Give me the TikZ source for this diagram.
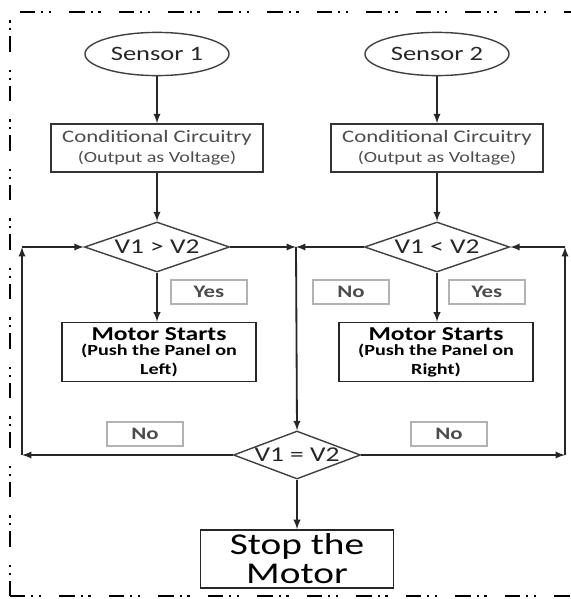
\documentclass[tikz,border=0pt]{standalone}
\usepackage{fontspec}
\setmainfont[FakeStretch=1.3]{Carlito}
\usetikzlibrary{shapes.geometric}

\tikzset{
  >=latex,
  flow/.style={->, line width=1.3pt, black!85},
  sensor/.style={ellipse, draw=black!75, line width=1pt, inner sep=0pt,
    minimum width=3.6cm, minimum height=1.08cm, text=black!85,
    font=\fontsize{14.5}{16}\selectfont},
  circuit/.style={rectangle, draw=black!80, line width=1pt, inner sep=0pt,
    minimum width=5.3cm, minimum height=1.2cm, align=center, text=black!70,
    font=\fontsize{12.5}{14}\selectfont},
  decision/.style={diamond, draw=black!75, line width=1pt, inner sep=0pt,
    minimum width=3.625cm, minimum height=1.25cm, text=black!85,
    font=\fontsize{15}{16}\selectfont},
  motor/.style={rectangle, draw=black!85, line width=1.2pt, inner sep=0pt,
    minimum width=4.85cm, minimum height=1.475cm, align=center,
    font=\bfseries\fontsize{14}{13}\selectfont},
  answer/.style={rectangle, draw=black!30, line width=1pt, inner sep=0pt,
    minimum width=1.9cm, minimum height=0.6cm, text=black!70,
    font=\bfseries\fontsize{12.5}{13}\selectfont},
  stopbox/.style={rectangle, draw=black!85, line width=1.2pt, inner sep=0pt,
    minimum width=4.825cm, minimum height=1.45cm, align=center,
    font=\fontsize{21.5}{20.5}\selectfont},
  frame/.style={line width=2pt, dash pattern=on 11pt off 4pt on 1.6pt off 4pt on 1.6pt off 13pt}
}

\newcommand{\smalltext}{\fontsize{11}{10.5}\selectfont}

\begin{document}
\begin{tikzpicture}[x=0.025cm, y=-0.025cm]
      \useasboundingbox (0,0) rectangle (571,599);

      \draw[frame] (10,596) -- (10,12) -- (571,12);
      \draw[frame] (10,596) -- (571,596);

      \node[sensor] (sensor1) at (157,54) {Sensor 1};
      \node[sensor] (sensor2) at (437,54) {Sensor 2};

      \node[circuit] (circ1) at (157,148) {Conditional Circuitry\\[0pt]\smalltext (Output as Voltage)};
      \node[circuit] (circ2) at (437,148) {Conditional Circuitry\\[0pt]\smalltext (Output as Voltage)};

      \node[decision] (gt) at (157,247) {\makebox[0pt]{V1 > V2}};
      \node[decision] (lt) at (437,247) {\makebox[0pt]{V1 < V2}};

      \node[answer] (yes1) at (209,292) {Yes};
      \node[answer] (no2) at (351,292) {No};
      \node[answer] (yes2) at (487,292) {Yes};

      \node[motor] (motor1) at (159,352) {Motor Starts\\[-2pt]\smalltext (Push the Panel on\\\smalltext Left)};
      \node[motor] (motor2) at (436,352) {Motor Starts\\[-2pt]\smalltext (Push the Panel on\\\smalltext Right)};

      \node[answer] (no3) at (145,434) {No};
      \node[answer] (no4) at (449,434) {No};

      \node[decision, minimum width=3.175cm, minimum height=1.2cm] (eq) at (297,455) {\makebox[0pt]{V1 = V2}};

      \node[stopbox] (stop) at (297,559) {Stop the\\Motor};

      \coordinate (mid) at (296,247);
      \coordinate (leftlow) at (22,455);
      \coordinate (lefttop) at (22,247);
      \coordinate (rightlow) at (565,455);
      \coordinate (righttop) at (565,247);

      \draw[flow] (sensor1) -- (circ1);
      \draw[flow] (sensor2) -- (circ2);
      \draw[flow] (circ1) -- (gt);
      \draw[flow] (circ2) -- (lt);

      \draw[flow] (gt.south) -- (gt.south |- motor1.north);
      \draw[flow] (lt.south) -- (lt.south |- motor2.north);

      \draw[flow] (gt.east) -- (mid);
      \draw[flow] (lt.west) -- (mid);
      \draw[flow] (mid) -- (eq.north);

      \draw[flow] (eq.west) -- (leftlow);
      \draw[flow] (leftlow) -- (lefttop);
      \draw[flow] (lefttop) -- (gt.west);

      \draw[flow] (eq.east) -- (rightlow);
      \draw[flow] (rightlow) -- (righttop);
      \draw[flow] (righttop) -- (lt.east);

      \draw[flow] (eq.south) -- (stop.north);

    \end{tikzpicture}
\end{document}
